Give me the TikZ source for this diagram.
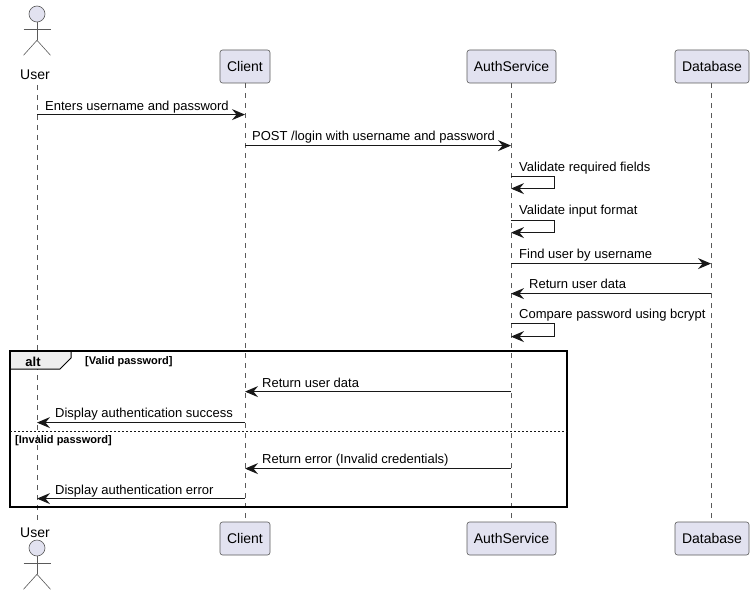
\documentclass[tikz,border=0pt]{standalone}
\usepackage{fontspec}
\setmainfont{Liberation Sans}
\usetikzlibrary{arrows.meta,calc}
\definecolor{ink}{HTML}{181818}
\definecolor{soft}{HTML}{5A5A5A}
\definecolor{partfill}{HTML}{E2E2F0}
\definecolor{tabfill}{HTML}{EEEEEE}
\newcommand{\boxtext}[1]{\raisebox{-0.8pt}{#1}}
\tikzset{
  part/.style={draw=soft,fill=partfill,line width=0.6pt,rounded corners=2.5pt,minimum height=33pt,inner sep=0pt,font=\fontsize{14}{16}\selectfont,text=black},
  lifeline/.style={draw=soft,line width=0.5pt,dash pattern=on 5pt off 5pt},
  msg/.style={draw=ink,line width=1pt,yshift=-0.6pt,-{Stealth[length=13pt,width=11pt,inset=4.5pt]}},
  msgtext/.style={anchor=base west,inner sep=0pt,yshift=-0.7pt,font=\fontsize{13}{15}\selectfont,text=black},
  guardtext/.style={anchor=base west,inner sep=0pt,font=\fontsize{11}{13}\selectfont\bfseries,text=black},
  actorline/.style={draw=soft,line width=0.6pt},
  actorhead/.style={circle,draw=soft,fill=partfill,line width=0.6pt,minimum size=16pt,inner sep=0pt},
  actorname/.style={anchor=base,inner sep=0pt,font=\fontsize{14}{16}\selectfont,text=black},
  framebox/.style={draw=black,line width=2pt},
}
\newcommand{\actorfig}[2]{% name, head y
  \node[actorhead] (#1) at (37,#2) {};
  \draw[actorline] (#1.south) -- ++(0,18) coordinate (#1hip);
  \draw[actorline] ($(#1.south)+(-13.5,7)$) -- ++(27,0);
  \draw[actorline] (#1hip) -- ++(-13.5,15);
  \draw[actorline] (#1hip) -- ++(13.5,15);
}
\newcommand{\msgline}[3]{% from, to, y
  \draw[msg] (#1 |- 0,#3) -- (#2 |- 0,#3);
}
\newcommand{\selfline}[2]{% y1, y2
  \draw[msg] (A |- 0,#1) -- ([xshift=43pt]A |- 0,#1) -- ([xshift=43pt]A |- 0,#2) -- (A |- 0,#2);
}
\begin{document}
\begin{tikzpicture}[x=1pt,y=-1pt]
\useasboundingbox (0,0) rectangle (754,604);
% lifeline anchors
\coordinate (U) at (37,0);
\coordinate (C) at (245,0);
\coordinate (A) at (511,0);
\coordinate (D) at (711,0);
% participants
\node[part,minimum width=50pt] (clientT) at (245,66.5) {\boxtext{Client}};
\node[part,minimum width=89pt] (authT) at (511.5,66.5) {\boxtext{AuthService}};
\node[part,minimum width=74pt] (dbT) at (712,66.5) {\boxtext{Database}};
\node[part,minimum width=50pt] (clientB) at (245,538.5) {\boxtext{Client}};
\node[part,minimum width=89pt] (authB) at (511.5,538.5) {\boxtext{AuthService}};
\node[part,minimum width=74pt] (dbB) at (712,538.5) {\boxtext{Database}};
\node[actorname] (userT) at (35,80) {User};
\node[actorname] (userB) at (35,537) {User};
% lifelines
\draw[lifeline] (37,85) -- (37,523);
\draw[lifeline] (clientT.south -| C) -- (clientB.north -| C);
\draw[lifeline] (authT.south -| A) -- (authB.north -| A);
\draw[lifeline] (dbT.south -| D) -- (dbB.north -| D);
% actors
\actorfig{headT}{14}
\actorfig{headB}{548}
% alt frame
\fill[tabfill] (10,351) -- (71,351) -- (71,358) -- (60,369) -- (10,369) -- cycle;
\draw[framebox] (10,351) rectangle (567,507);
\draw[framebox,line width=1pt] (71,351) -- (71,358) -- (60,369) -- (10,369);
\node[anchor=base,inner sep=0pt,font=\fontsize{13}{15}\selectfont\bfseries] (altlabel) at (33,366) {alt};
\node[guardtext] (guard1) at (85,364) {[Valid password]};
\node[guardtext] (guard2) at (15,443) {[Invalid password]};
\draw[ink,line width=1pt,dash pattern=on 2pt off 2pt] (10,431) -- (567,431);
% messages
\msgline{U}{C}{114}
\node[msgtext] (t1) at (45,110) {Enters username and password};
\msgline{C}{A}{145}
\node[msgtext] (t2) at (252,140) {POST /login with username and password};
\selfline{176}{188}
\node[msgtext] (t3) at (519,171) {Validate required fields};
\selfline{220}{232}
\node[msgtext] (t4) at (519,214) {Validate input format};
\msgline{A}{D}{263}
\node[msgtext] (t5) at (519,258) {Find user by username};
\msgline{D}{A}{293}
\node[msgtext] (t6) at (529,288) {Return user data};
\selfline{323}{336}
\node[msgtext] (t7) at (519,318) {Compare password using bcrypt};
\msgline{A}{C}{391}
\node[msgtext] (t8) at (262,387) {Return user data};
\msgline{C}{U}{422}
\node[msgtext] (t9) at (55,417) {Display authentication success};
\msgline{A}{C}{468}
\node[msgtext] (t10) at (262,463) {Return error (Invalid credentials)};
\msgline{C}{U}{498}
\node[msgtext] (t11) at (55,494) {Display authentication error};
\end{tikzpicture}
\end{document}
